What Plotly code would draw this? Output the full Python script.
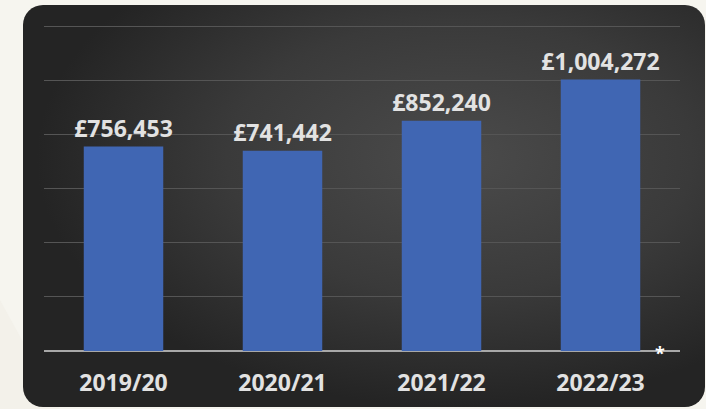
import base64
import plotly.graph_objects as go

# ---- data ----
years = ["2019/20", "2020/21", "2021/22", "2022/23"]
values = [756453, 741442, 852240, 1004272]
value_labels = ["£756,453", "£741,442", "£852,240", "£1,004,272"]
y_ticks = [0, 200000, 400000, 600000, 800000, 1000000, 1200000]

W, H = 706, 409
ML, MR, MT, MB = 44, 26, 24, 58
PW, PH = W - ML - MR, H - MT - MB

svg = f'''<svg xmlns="http://www.w3.org/2000/svg" width="{W}" height="{H}" viewBox="0 0 {W} {H}" preserveAspectRatio="none">
<defs>
<radialGradient id="g" cx="0.64" cy="0.38" r="0.62" gradientUnits="objectBoundingBox">
<stop offset="0" stop-color="#4b4b4b"/>
<stop offset="0.55" stop-color="#3a3a3a"/>
<stop offset="1" stop-color="#242424"/>
</radialGradient>
</defs>
<rect x="0" y="0" width="{W}" height="{H}" fill="#f6f5ef"/>
<path d="M0 0 L0 300 L60 409 L0 409 Z" fill="#f3f1ea"/>
<rect x="23" y="5" width="682" height="402" rx="20" ry="20" fill="url(#g)"/>
</svg>'''
src = "data:image/svg+xml;base64," + base64.b64encode(svg.encode()).decode()

font = "'Open Sans', sans-serif"

fig = go.Figure(
    go.Bar(
        x=years,
        y=values,
        marker=dict(color="#4066b3", line=dict(width=0)),
        text=value_labels,
        textposition="outside",
        constraintext="none",
        textfont=dict(family=font, size=23, color="#e2e2e2", weight="bold"),
        cliponaxis=False,
        hoverinfo="skip",
    )
)

fig.update_layout(
    width=W,
    height=H,
    margin=dict(l=ML, r=MR, t=MT, b=MB, autoexpand=False),
    paper_bgcolor="#f6f5ef",
    plot_bgcolor="rgba(0,0,0,0)",
    bargap=0.5,
    showlegend=False,
    xaxis=dict(
        showgrid=False,
        showline=False,
        ticks="",
        automargin=False,
        tickfont=dict(family=font, size=23, color="#e2e2e2", weight="bold"),
        ticklabelstandoff=16,
    ),
    yaxis=dict(
        range=[0, 1210000],
        tickvals=y_ticks,
        showticklabels=False,
        automargin=False,
        showgrid=True,
        gridcolor="#555555",
        gridwidth=1,
        zeroline=True,
        zerolinecolor="#a8a8a8",
        zerolinewidth=1.5,
    ),
    images=[dict(
        source=src,
        xref="paper", yref="paper",
        x=-ML / PW, y=1 + MT / PH,
        sizex=W / PW, sizey=H / PH,
        xanchor="left", yanchor="top",
        sizing="stretch",
        layer="below",
    )],
    annotations=[dict(
        text="*",
        xref="paper", yref="y",
        x=(660 - ML) / PW, y=0,
        xanchor="center", yanchor="middle",
        yshift=-2,
        showarrow=False,
        font=dict(family=font, size=18, color="#ffffff", weight="bold"),
    )],
)

fig.write_html(
    "out.html",
    config={"displayModeBar": False},
    post_script="document.body.style.margin='0';document.body.style.background='#f6f5ef';",
)
